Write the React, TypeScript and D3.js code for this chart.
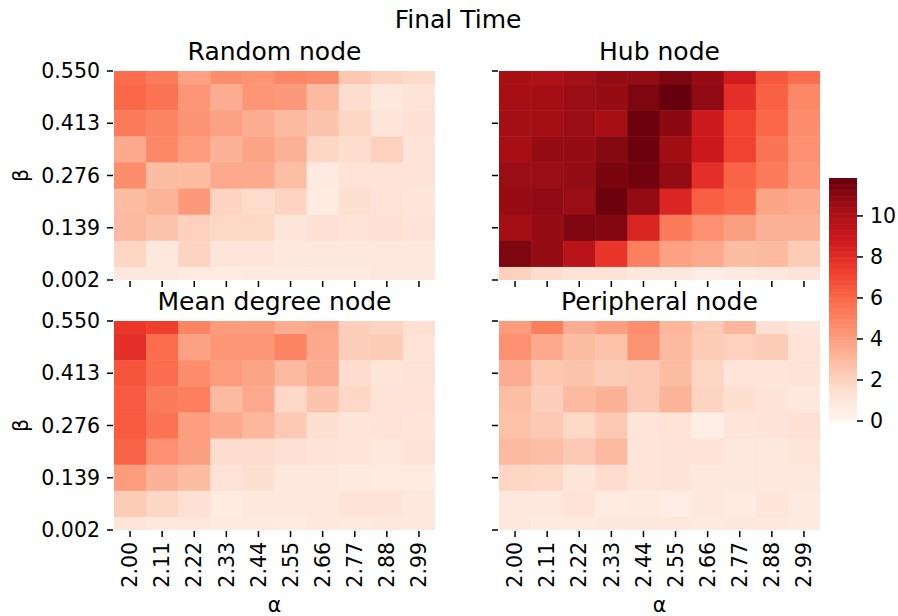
import React, { useEffect, useRef } from "react";
import * as d3 from "d3";

// alpha (columns) and beta (rows, top to bottom)
const alphas = ["2.00", "2.11", "2.22", "2.33", "2.44", "2.55", "2.66", "2.77", "2.88", "2.99"];
const betas = [0.55, 0.4815, 0.413, 0.3445, 0.276, 0.2075, 0.139, 0.0705, 0.002];
const cbTicks = [0, 2, 4, 6, 8, 10];
const vmax = 11.85;

const randomNode = [
  [5.8, 5.3, 3.9, 4.6, 4.4, 4.9, 4.7, 2.5, 2.0, 1.7],
  [6.0, 5.6, 4.3, 3.5, 4.3, 4.2, 3.0, 1.6, 1.0, 1.2],
  [5.3, 5.0, 4.4, 3.9, 3.5, 3.0, 2.6, 1.9, 1.1, 1.4],
  [3.6, 4.8, 4.1, 3.3, 3.8, 3.3, 1.9, 1.6, 2.1, 1.2],
  [4.6, 2.9, 2.9, 3.6, 3.6, 2.8, 0.8, 1.3, 1.3, 1.2],
  [2.9, 3.2, 4.2, 2.0, 1.7, 2.0, 0.7, 1.5, 1.3, 1.1],
  [3.0, 2.6, 2.1, 1.8, 1.8, 1.1, 1.4, 1.2, 1.4, 1.2],
  [1.9, 0.9, 2.0, 1.1, 1.1, 1.0, 1.0, 0.9, 0.9, 0.9],
  [1.0, 0.9, 0.7, 0.7, 0.8, 0.8, 0.8, 0.8, 1.0, 0.9],
];

const hubNode = [
  [10.2, 10.0, 10.4, 10.8, 10.8, 11.3, 10.7, 8.7, 6.5, 5.8],
  [10.3, 10.4, 10.6, 10.7, 11.3, 11.85, 10.9, 7.9, 6.2, 4.8],
  [10.4, 10.4, 10.6, 10.3, 11.7, 11.0, 8.8, 7.2, 6.0, 4.6],
  [10.3, 10.7, 10.7, 11.1, 11.7, 10.5, 8.9, 7.2, 5.5, 4.5],
  [10.6, 10.6, 10.8, 11.4, 11.6, 10.8, 7.9, 6.1, 5.3, 4.3],
  [10.7, 10.9, 10.6, 11.7, 10.8, 8.3, 6.3, 5.9, 3.8, 3.6],
  [10.4, 10.7, 11.3, 11.2, 8.3, 5.3, 4.5, 4.0, 3.3, 3.3],
  [11.3, 10.8, 9.6, 7.6, 5.1, 3.9, 3.6, 2.9, 3.0, 2.3],
  [2.1, 1.6, 1.3, 1.3, 0.9, 0.9, 0.6, 0.8, 0.9, 1.2],
];

const meanDegreeNode = [
  [7.6, 7.3, 5.0, 4.1, 4.1, 3.5, 3.7, 2.2, 2.0, 1.5],
  [7.9, 5.8, 3.9, 4.3, 4.3, 5.0, 3.6, 2.2, 2.3, 1.3],
  [6.6, 5.8, 4.6, 4.1, 3.8, 3.0, 3.5, 1.6, 1.1, 1.2],
  [6.4, 5.3, 5.1, 3.0, 3.6, 1.8, 2.6, 1.8, 1.3, 1.3],
  [6.4, 5.6, 4.0, 3.6, 3.1, 2.4, 1.5, 1.1, 1.3, 1.1],
  [6.1, 4.5, 4.0, 1.6, 1.6, 1.4, 1.2, 1.1, 1.0, 1.2],
  [4.1, 3.3, 2.9, 1.3, 1.5, 0.9, 0.9, 0.8, 0.7, 0.7],
  [2.3, 1.9, 1.4, 0.7, 1.0, 0.9, 1.0, 1.2, 1.2, 1.0],
  [1.1, 1.0, 0.9, 0.8, 0.8, 0.7, 1.0, 0.8, 0.9, 0.9],
];

const peripheralNode = [
  [4.1, 5.2, 3.5, 4.0, 4.6, 3.1, 2.4, 3.1, 1.4, 0.9],
  [4.5, 3.6, 2.9, 2.7, 4.4, 3.0, 2.3, 2.1, 2.3, 1.3],
  [3.5, 2.5, 2.6, 2.3, 2.4, 2.9, 1.9, 1.1, 1.1, 1.2],
  [2.8, 2.2, 3.0, 3.3, 2.4, 3.2, 2.0, 1.5, 1.2, 0.9],
  [2.7, 2.4, 1.8, 2.4, 1.1, 1.3, 0.5, 1.1, 1.2, 1.4],
  [3.0, 2.8, 2.4, 3.0, 1.1, 1.2, 1.3, 1.0, 1.0, 1.1],
  [1.9, 1.8, 1.1, 1.6, 1.1, 1.2, 1.0, 1.0, 1.0, 1.0],
  [0.9, 1.0, 1.3, 0.7, 0.8, 0.6, 1.0, 0.7, 1.1, 0.8],
  [1.0, 0.8, 0.8, 0.9, 0.9, 1.0, 0.8, 0.9, 0.9, 0.8],
];

// matplotlib "Reds" stops
const redsStops = ["#fff5f0", "#fee0d2", "#fcbba1", "#fc9272", "#fb6a4a", "#ef3b2c", "#cb181d", "#a50f15", "#67000d"];

const FONT = "DejaVu Sans, sans-serif";
const TICK = "20.5px";
const TITLE = "25px";

const App = () => {
  const ref = useRef<SVGSVGElement>(null);

  useEffect(() => {
    const svg = d3.select(ref.current);
    svg.selectAll("*").remove();

    const color = d3
      .scaleLinear<string>()
      .domain(redsStops.map((_, i) => (i / (redsStops.length - 1)) * vmax))
      .range(redsStops)
      .interpolate(d3.interpolateRgb)
      .clamp(true);

    const W = 321;
    const H = 209;
    const panels = [
      { title: "Random node", data: randomNode, x0: 114, y0: 71, xl: false, yl: true },
      { title: "Hub node", data: hubNode, x0: 499, y0: 71, xl: false, yl: false },
      { title: "Mean degree node", data: meanDegreeNode, x0: 114, y0: 321, xl: true, yl: true },
      { title: "Peripheral node", data: peripheralNode, x0: 499, y0: 321, xl: true, yl: false },
    ];

    // suptitle
    svg
      .append("text")
      .attr("x", 458)
      .attr("y", 28)
      .attr("text-anchor", "middle")
      .style("font-family", FONT)
      .style("font-size", TITLE)
      .text("Final Time");

    panels.forEach((p, pi) => {
      const x = d3.scaleBand().domain(alphas).range([p.x0, p.x0 + W]);
      // half of top and bottom rows is cut off (row centres at i + 0.5)
      const y = d3.scaleLinear().domain([0.5, betas.length - 0.5]).range([p.y0, p.y0 + H]);

      const clipId = `clip${pi}`;
      svg
        .append("clipPath")
        .attr("id", clipId)
        .append("rect")
        .attr("x", p.x0)
        .attr("y", p.y0)
        .attr("width", W)
        .attr("height", H);

      const cells = p.data.flatMap((row, r) => row.map((v, c) => ({ r, c, v })));
      svg
        .append("g")
        .attr("clip-path", `url(#${clipId})`)
        .selectAll("rect")
        .data(cells)
        .enter()
        .append("rect")
        .attr("x", (d) => x(alphas[d.c])!)
        .attr("y", (d) => y(d.r))
        .attr("width", x.bandwidth() + 0.5)
        .attr("height", y(1) - y(0) + 0.5)
        .attr("fill", (d) => color(d.v));

      // title
      svg
        .append("text")
        .attr("x", p.x0 + W / 2)
        .attr("y", p.y0 - 11)
        .attr("text-anchor", "middle")
        .style("font-family", FONT)
        .style("font-size", TITLE)
        .text(p.title);

      // y ticks (every other row)
      const yIdx = betas.map((_, i) => i).filter((i) => i % 2 === 0);
      const yg = svg.append("g");
      yIdx.forEach((i) => {
        const yy = y(i + 0.5);
        yg.append("line")
          .attr("x1", p.x0 - 7)
          .attr("x2", p.x0 - 1)
          .attr("y1", yy)
          .attr("y2", yy)
          .attr("stroke", "#000")
          .attr("stroke-width", 1.5);
        if (p.yl) {
          yg.append("text")
            .attr("x", p.x0 - 14)
            .attr("y", yy)
            .attr("dy", "0.35em")
            .attr("text-anchor", "end")
            .style("font-family", FONT)
            .style("font-size", TICK)
            .text(d3.format(".3f")(betas[i]));
        }
      });
      if (p.yl) {
        svg
          .append("text")
          .attr("transform", `translate(28,${p.y0 + H / 2}) rotate(-90)`)
          .attr("text-anchor", "middle")
          .style("font-family", FONT)
          .style("font-size", TICK)
          .text("β");
      }

      // x ticks
      const xg = svg.append("g");
      alphas.forEach((a) => {
        const xx = x(a)! + x.bandwidth() / 2;
        xg.append("line")
          .attr("x1", xx)
          .attr("x2", xx)
          .attr("y1", p.y0 + H + 1)
          .attr("y2", p.y0 + H + 7)
          .attr("stroke", "#000")
          .attr("stroke-width", 1.5);
        if (p.xl) {
          xg.append("text")
            .attr("transform", `translate(${xx},${p.y0 + H + 12}) rotate(-90)`)
            .attr("dy", "0.35em")
            .attr("text-anchor", "end")
            .style("font-family", FONT)
            .style("font-size", TICK)
            .text(a);
        }
      });
      if (p.xl) {
        svg
          .append("text")
          .attr("x", p.x0 + W / 2)
          .attr("y", 612)
          .attr("text-anchor", "middle")
          .style("font-family", FONT)
          .style("font-size", TICK)
          .text("α");
      }
    });

    // colorbar
    const cbX = 829;
    const cbW = 28;
    const cbTop = 178;
    const cbBottom = 421;
    const cy = d3.scaleLinear().domain([0, vmax]).range([cbBottom, cbTop]);
    const steps = d3.range(0, 200);
    svg
      .append("g")
      .selectAll("rect")
      .data(steps)
      .enter()
      .append("rect")
      .attr("x", cbX)
      .attr("width", cbW)
      .attr("y", (d) => cy(((d + 1) / steps.length) * vmax))
      .attr("height", (cbBottom - cbTop) / steps.length + 0.6)
      .attr("fill", (d) => color(((d + 0.5) / steps.length) * vmax));

    const cbAxis = svg.append("g");
    cbTicks.forEach((t) => {
      cbAxis
        .append("line")
        .attr("x1", cbX + cbW)
        .attr("x2", cbX + cbW + 6)
        .attr("y1", cy(t))
        .attr("y2", cy(t))
        .attr("stroke", "#000")
        .attr("stroke-width", 1.5);
      cbAxis
        .append("text")
        .attr("x", cbX + cbW + 13)
        .attr("y", cy(t))
        .attr("dy", "0.35em")
        .style("font-family", FONT)
        .style("font-size", TICK)
        .text(t);
    });
  }, []);

  return <svg ref={ref} width={898} height={616} style={{ display: "block", position: "absolute", left: 0, top: 0 }} />;
};

export default App;
